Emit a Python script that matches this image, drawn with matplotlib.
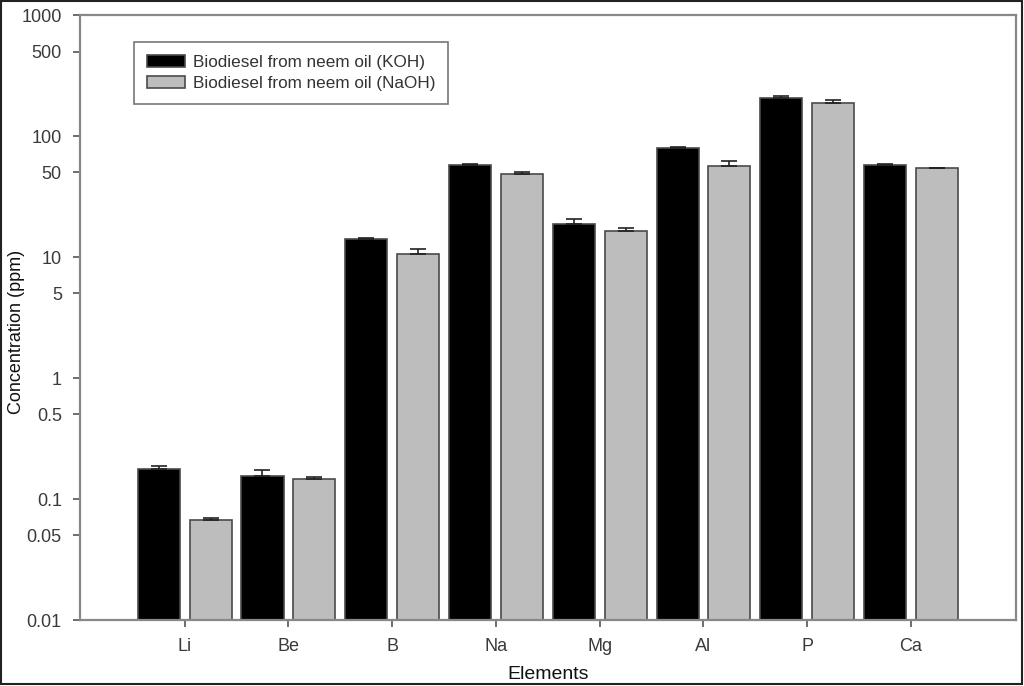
import numpy as np
import matplotlib
matplotlib.use("Agg")
import matplotlib.pyplot as plt
from matplotlib.patches import Rectangle

# Données
elements = ["Li", "Be", "B", "Na", "Mg", "Al", "P", "Ca"]
koh = [0.177, 0.156, 14.0, 58.0, 18.8, 79.0, 205.0, 57.3]
koh_err = [0.009, 0.017, 0.5, 1.0, 2.0, 2.5, 11.0, 1.3]
naoh = [0.067, 0.146, 10.5, 48.2, 16.5, 56.5, 187.0, 54.1]
naoh_err = [0.003, 0.007, 1.2, 2.4, 0.9, 6.2, 12.0, 0.4]
yticks = [0.01, 0.05, 0.1, 0.5, 1, 5, 10, 50, 100, 500, 1000]
ytick_labels = ["0.01", "0.05", "0.1", "0.5", "1", "5", "10", "50", "100", "500", "1000"]

plt.rcParams['font.family'] = ['Liberation Sans', 'DejaVu Sans']

fig = plt.figure(figsize=(10.24, 6.86), dpi=100)
ax = fig.add_axes([0.078, 0.0962, 0.914, 0.8818])

x = np.arange(len(elements))
w = 0.405
edge = "#4a4a4a"
ax.bar(x - 0.25, koh, w, color="black", edgecolor=edge, linewidth=1.2,
       yerr=[np.zeros(len(koh)), koh_err], error_kw=dict(ecolor="#222222", elinewidth=1.2, capsize=6, capthick=1.2),
       label="Biodiesel from neem oil (KOH)", zorder=2)
ax.bar(x + 0.25, naoh, w, color="#bdbdbd", edgecolor=edge, linewidth=1.2,
       yerr=[np.zeros(len(naoh)), naoh_err], error_kw=dict(ecolor="#222222", elinewidth=1.2, capsize=6, capthick=1.2),
       label="Biodiesel from neem oil (NaOH)", zorder=2)

ax.set_yscale("log")
ax.set_ylim(0.01, 1000)
ax.set_xlim(-1.01, 8.01)
ax.set_yticks(yticks)
ax.set_yticklabels(ytick_labels)
ax.minorticks_off()
ax.set_xticks(x)
ax.set_xticklabels(elements)
ax.tick_params(axis="both", labelsize=13, colors="#555555", labelcolor="#3a3a3a",
               length=5, width=1.2, direction="out", pad=8)
for s in ax.spines.values():
    s.set_color("#888888")
    s.set_linewidth(1.6)

ax.set_xlabel("Elements", fontsize=14, color="#111111", labelpad=8)
ax.set_ylabel("Concentration (ppm)", fontsize=13, color="#111111")
ax.yaxis.set_label_coords(-0.059, 0.476)

leg = ax.legend(loc="upper left", bbox_to_anchor=(0.0577, 0.955), borderaxespad=0, fontsize=12.3,
                frameon=True, fancybox=False, edgecolor="#555555",
                handlelength=2.25, handleheight=0.65, borderpad=0.75, labelspacing=0.35, handletextpad=0.45)
leg.get_frame().set_linewidth(1.2)
for t in leg.get_texts():
    t.set_color("#333333")

# Cadre autour de la figure
fig.patches.append(Rectangle((0.001, 0.003), 0.997, 0.995, transform=fig.transFigure,
                             fill=False, edgecolor="#222222", linewidth=1.5))

plt.savefig("out.png", dpi=100)
